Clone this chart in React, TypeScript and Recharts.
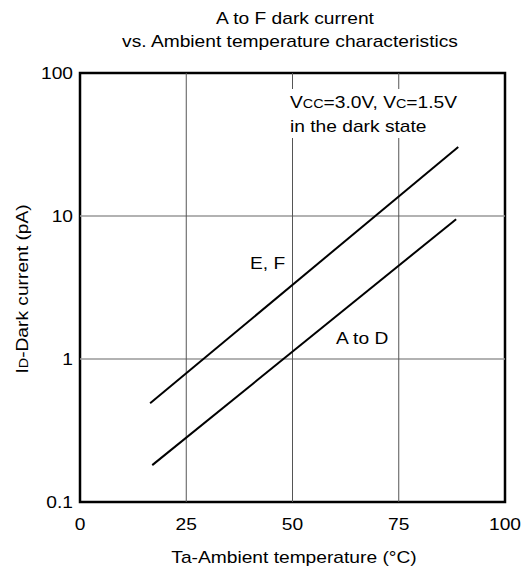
import React from 'react';
import {
  LineChart,
  Line,
  XAxis,
  YAxis,
  ReferenceLine,
  ReferenceArea,
} from 'recharts';

// temperature (°C) and dark current (pA)
const efTemp = [16.5, 89];
const efCurrent = [0.49, 30.4];
const adTemp = [17, 88.5];
const adCurrent = [0.181, 9.5];

const xTicks = [0, 25, 50, 75, 100];
const yTicks = [0.1, 1, 10, 100];
const xGrid = [25, 50, 75];
const yGrid = [1, 10];

const efData = efTemp.map((x, i) => ({ x, y: efCurrent[i] }));
const adData = adTemp.map((x, i) => ({ x, y: adCurrent[i] }));

const FONT = '"Liberation Sans", Arial, Helvetica, sans-serif';
const SX = 1.2;

function Txt({
  x,
  y,
  anchor = 'start',
  rotate = 0,
  children,
}: {
  x: number;
  y: number;
  anchor?: 'start' | 'middle' | 'end';
  rotate?: number;
  children: React.ReactNode;
}) {
  return (
    <text
      transform={`translate(${x},${y}) rotate(${rotate}) scale(${SX},1)`}
      textAnchor={anchor}
      fontFamily={FONT}
      fontSize={16}
      fill="#000"
    >
      {children}
    </text>
  );
}

function XTick({ x, y, payload }: any) {
  return (
    <Txt x={x} y={y + 26} anchor="middle">
      {payload.value}
    </Txt>
  );
}

function YTick({ x, y, payload }: any) {
  return (
    <Txt x={x} y={y + 5.5} anchor="end">
      {payload.value}
    </Txt>
  );
}

export default function App() {
  return (
    <div style={{ position: 'absolute', left: 0, top: 0, width: 529, height: 574, background: '#fff' }}>
      <LineChart
        width={529}
        height={574}
        margin={{ top: 73, right: 24, left: 0, bottom: 0 }}
      >
        <XAxis
          type="number"
          dataKey="x"
          domain={[0, 100]}
          ticks={xTicks}
          tick={<XTick />}
          tickLine={false}
          tickSize={0}
          axisLine={false}
          height={72}
          allowDataOverflow
        />
        <YAxis
          type="number"
          scale="log"
          domain={[0.1, 100]}
          ticks={yTicks}
          tick={<YTick />}
          tickLine={false}
          tickSize={0}
          tickMargin={7}
          axisLine={false}
          width={80}
          allowDataOverflow
        />
        {yGrid.map((v) => (
          <ReferenceLine key={`h${v}`} y={v} stroke="#999" strokeWidth={1.5} />
        ))}
        {xGrid.map((v) => (
          <ReferenceLine key={`v${v}`} x={v} stroke="#555" strokeWidth={1} />
        ))}
        <Line
          data={efData}
          dataKey="y"
          stroke="#000"
          strokeWidth={2}
          dot={false}
          activeDot={false}
          isAnimationActive={false}
        />
        <Line
          data={adData}
          dataKey="y"
          stroke="#000"
          strokeWidth={2}
          dot={false}
          activeDot={false}
          isAnimationActive={false}
        />
        <ReferenceArea
          x1={0}
          x2={100}
          y1={0.1}
          y2={100}
          fill="none"
          fillOpacity={0}
          stroke="#000"
          strokeWidth={2.5}
        />
      </LineChart>
      <svg
        width={529}
        height={574}
        style={{ position: 'absolute', left: 0, top: 0, pointerEvents: 'none' }}
      >
        <Txt x={295} y={24} anchor="middle">A to F dark current</Txt>
        <Txt x={290} y={47} anchor="middle">vs. Ambient temperature characteristics</Txt>
        <rect x={284} y={89} width={184} height={49} fill="#fff" />
        <Txt x={290} y={108}>
          V<tspan fontSize={12}>CC</tspan>=3.0V, V<tspan fontSize={12}>C</tspan>=1.5V
        </Txt>
        <Txt x={290} y={132}>in the dark state</Txt>
        <Txt x={250} y={269}>E, F</Txt>
        <Txt x={336} y={344}>A to D</Txt>
        <Txt x={294} y={563} anchor="middle">Ta-Ambient temperature (°C)</Txt>
        <Txt x={28} y={289} anchor="middle" rotate={-90}>
          I<tspan fontSize={12}>D</tspan>-Dark current (pA)
        </Txt>
      </svg>
    </div>
  );
}
